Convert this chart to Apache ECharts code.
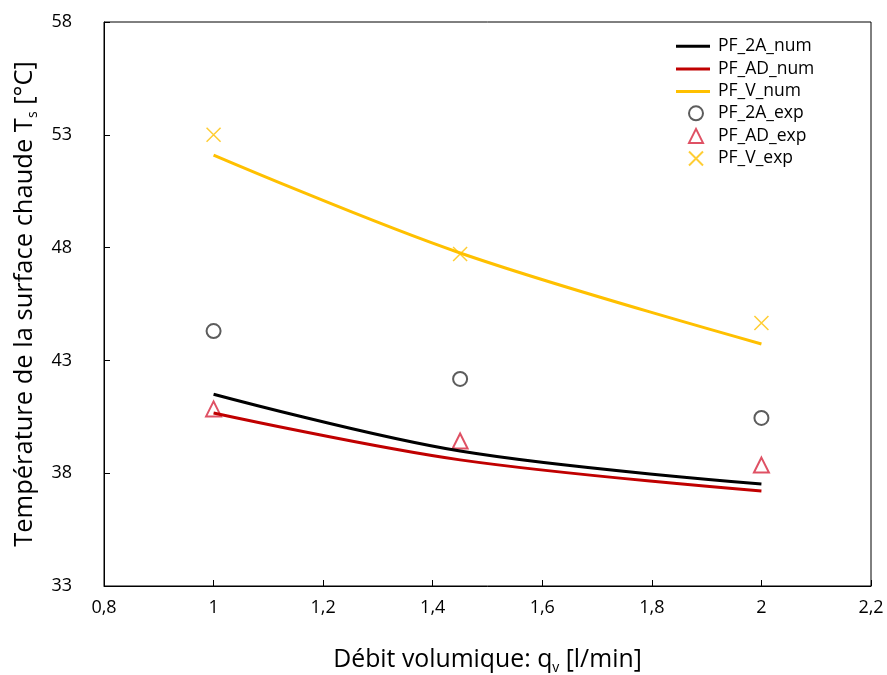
<!DOCTYPE html>
<html><head><meta charset="utf-8">
<script src="https://cdn.jsdelivr.net/npm/echarts@6/dist/echarts.min.js"></script>
<style>html,body{margin:0;padding:0;background:#fff;overflow:hidden}#c{width:887px;height:675px}</style>
</head><body><div id="c"></div>
<script>
const xValues = [1, 1.45, 2];
const pf2aNum = [41.5, 38.98, 37.52];
const pfAdNum = [40.67, 38.59, 37.21];
const pfVNum = [52.1, 47.76, 43.73];
const pf2aExp = [44.3, 42.18, 40.45];
const pfAdExp = [40.85, 39.43, 38.36];
const pfVExp = [53.0, 47.72, 44.66];
const seriesNames = ['PF_2A_num','PF_AD_num','PF_V_num','PF_2A_exp','PF_AD_exp','PF_V_exp'];

const pairs = ys => xValues.map((x,i)=>[x, ys[i]]);
const FONT = '"Open Sans", "Liberation Sans", sans-serif';
const chart = echarts.init(document.getElementById('c'));
const xPath = 'path://M0,0 L10,10 M10,0 L0,10';
const subRich = {sub: {fontSize: 14, verticalAlign: 'bottom', lineHeight: 22, padding: [11,0,0,0], fontFamily: FONT, color: '#000'}};

chart.setOption({
  animation: false,
  textStyle: {fontFamily: FONT},
  grid: {left: 104, width: 767, top: 22, height: 564, show: true, borderColor: '#000', borderWidth: 1, containLabel: false, outerBoundsMode: 'none'},
  legend: [
    {
      orient: 'vertical', left: 671, top: 30, itemGap: 0, itemWidth: 34, itemHeight: 3, icon: 'rect',
      textStyle: {fontSize: 17.5, color: '#000', fontFamily: FONT, lineHeight: 22.6, padding: [0,0,0,3]},
      data: seriesNames.slice(0,3)
    },
    {
      orient: 'vertical', left: 683, top: 97, itemGap: 0, itemWidth: 14, itemHeight: 14,
      textStyle: {fontSize: 17.5, color: '#000', fontFamily: FONT, lineHeight: 22.6, padding: [0,0,0,10]},
      data: seriesNames.slice(3)
    }
  ],
  xAxis: {
    type: 'value', min: 0.8, max: 2.2, interval: 0.2,
    name: 'Débit volumique: q{sub|v} [l/min]', nameLocation: 'middle', nameGap: 59,
    nameTextStyle: {fontSize: 24.8, color: '#000', fontFamily: FONT, lineHeight: 30, rich: subRich},
    axisLine: {show: true, lineStyle: {color: '#000', width: 1}},
    axisTick: {show: true, inside: true, length: 6, lineStyle: {color: '#000'}},
    axisLabel: {fontSize: 18, color: '#000', margin: 13, formatter: v => String(Math.round(v*10)/10).replace('.', ',')},
    splitLine: {show: false}
  },
  yAxis: {
    type: 'value', min: 33, max: 58, interval: 5,
    name: 'Température de la surface chaude T{sub|s} [°C]', nameLocation: 'middle', nameGap: 64, nameRotate: 90,
    nameTextStyle: {fontSize: 25.5, color: '#000', fontFamily: FONT, lineHeight: 30, rich: subRich},
    axisLine: {show: true, lineStyle: {color: '#000', width: 1}},
    axisTick: {show: true, inside: true, length: 6, lineStyle: {color: '#000'}},
    axisLabel: {fontSize: 18, color: '#000', margin: 32},
    splitLine: {show: false}
  },
  series: [
    {name: seriesNames[0], type: 'line', data: pairs(pf2aNum), smooth: 0.35, symbol: 'none', lineStyle: {color: '#000', width: 3}, itemStyle: {color: '#000'}},
    {name: seriesNames[1], type: 'line', data: pairs(pfAdNum), smooth: 0.35, symbol: 'none', lineStyle: {color: '#C00000', width: 3}, itemStyle: {color: '#C00000'}},
    {name: seriesNames[2], type: 'line', data: pairs(pfVNum), smooth: 0.35, symbol: 'none', lineStyle: {color: '#FFC000', width: 3}, itemStyle: {color: '#FFC000'}},
    {name: seriesNames[3], type: 'scatter', data: pairs(pf2aExp), symbol: 'circle', symbolSize: 14, itemStyle: {color: 'rgba(0,0,0,0)', borderColor: '#333', borderWidth: 2}},
    {name: seriesNames[4], type: 'scatter', data: pairs(pfAdExp), symbol: 'triangle', symbolSize: 15, itemStyle: {color: 'rgba(0,0,0,0)', borderColor: '#D7263D', borderWidth: 2}},
    {name: seriesNames[5], type: 'scatter', data: pairs(pfVExp), symbol: xPath, symbolSize: 14, itemStyle: {color: 'rgba(0,0,0,0)', borderColor: '#FFC000', borderWidth: 1.5}}
  ]
});
</script></body></html>
